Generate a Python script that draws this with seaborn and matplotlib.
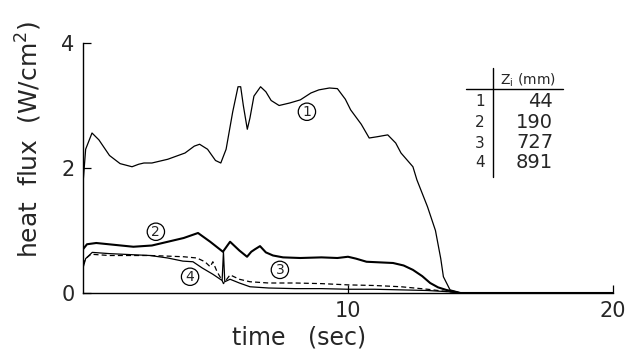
import numpy as np
import pandas as pd
import matplotlib
matplotlib.use("Agg")
import matplotlib.pyplot as plt
import seaborn as sns

# ---- data ----
t1 = [0, 0.1, 0.34, 0.6, 1.0, 1.4, 1.85, 2.1, 2.3, 2.6, 3.2, 3.85, 4.2, 4.4, 4.7, 5.0, 5.2, 5.4, 5.65, 5.85,
      5.95, 6.05, 6.2, 6.3, 6.45, 6.7, 6.9, 7.1, 7.4, 7.8, 8.2, 8.6, 8.9, 9.3, 9.6, 9.9, 10.1, 10.5, 10.8, 11.1,
      11.5, 11.8, 12.0, 12.45, 12.6, 13.0, 13.3, 13.5, 13.6, 13.85, 14.3, 20]
v1 = [1.75, 2.3, 2.56, 2.45, 2.2, 2.07, 2.02, 2.06, 2.08, 2.08, 2.14, 2.24, 2.35, 2.38, 2.3, 2.12, 2.08, 2.3,
      2.9, 3.3, 3.3, 3.0, 2.62, 2.8, 3.15, 3.3, 3.22, 3.08, 3.0, 3.04, 3.09, 3.2, 3.25, 3.28, 3.27, 3.1, 2.93,
      2.7, 2.48, 2.5, 2.53, 2.4, 2.24, 2.02, 1.81, 1.38, 1.0, 0.55, 0.26, 0.05, 0.0, 0.0]

t2 = [0, 0.15, 0.5, 1.2, 1.9, 2.6, 3.2, 3.8, 4.34, 4.8, 5.28, 5.55, 5.9, 6.19, 6.35, 6.49, 6.68, 6.9, 7.17,
      7.55, 8.2, 9.0, 9.6, 10.0, 10.3, 10.7, 11.2, 11.7, 12.1, 12.45, 12.8, 13.1, 13.4, 13.7, 14.2, 20]
v2 = [0.7, 0.78, 0.8, 0.77, 0.74, 0.76, 0.82, 0.88, 0.96, 0.82, 0.66, 0.82, 0.68, 0.58, 0.66, 0.7, 0.75,
      0.65, 0.6, 0.57, 0.56, 0.57, 0.56, 0.58, 0.55, 0.5, 0.49, 0.48, 0.44, 0.37, 0.27, 0.16, 0.09, 0.05, 0.0, 0.0]

t3 = [0, 0.1, 0.3, 1, 2, 2.53, 3.2, 3.8, 4.3, 4.6, 4.8, 4.9, 5.06, 5.25, 5.3, 5.55, 5.9, 6.3, 7, 8, 9, 10, 11,
      12, 13, 13.8, 14.3, 20]
v3 = [0.45, 0.55, 0.62, 0.6, 0.6, 0.6, 0.59, 0.58, 0.56, 0.5, 0.42, 0.5, 0.34, 0.2, 0.15, 0.29, 0.22, 0.18,
      0.16, 0.16, 0.15, 0.13, 0.12, 0.1, 0.06, 0.02, 0, 0]

t4 = [0, 0.1, 0.35, 1, 2, 2.53, 3.2, 3.77, 4.15, 4.5, 4.9, 5.25, 5.3, 5.35, 5.55, 5.9, 6.3, 7, 8, 9, 10, 11, 12,
      13, 13.8, 14.3, 20]
v4 = [0.4, 0.55, 0.65, 0.63, 0.61, 0.6, 0.56, 0.51, 0.5, 0.4, 0.3, 0.2, 0.66, 0.18, 0.22, 0.16, 0.1, 0.08, 0.07,
      0.07, 0.06, 0.06, 0.05, 0.04, 0.02, 0, 0]

series_ids = ["1", "2", "3", "4"]
z_mm = ["44", "190", "727", "891"]
x_ticks = [10, 20]
y_ticks = [0, 2, 4]

sns.set_theme(style="white")
plt.rcParams["font.family"] = ["DejaVu Sans"]
plt.rcParams["xtick.direction"] = "in"
plt.rcParams["ytick.direction"] = "in"

fig = plt.figure(figsize=(6.32, 3.56), dpi=100)
ax = fig.add_axes([83 / 632, 1 - 293 / 356, 530 / 632, 250 / 356])

styles = {
    "1": dict(color="black", lw=0.9, ls="-"),
    "2": dict(color="black", lw=1.5, ls="-"),
    "3": dict(color="black", lw=0.9, ls=(0, (4, 2.5))),
    "4": dict(color="black", lw=0.9, ls="-"),
}
for sid, t, v in zip(series_ids, [t1, t2, t3, t4], [v1, v2, v3, v4]):
    df = pd.DataFrame({"t": t, "v": v})
    sns.lineplot(data=df, x="t", y="v", ax=ax, sort=False, estimator=None,
                 color=styles[sid]["color"], linewidth=styles[sid]["lw"], linestyle=styles[sid]["ls"])

ax.set_xlim(0, 20)
ax.set_ylim(0, 4)
ax.set_xticks(x_ticks)
ax.set_yticks(y_ticks)
ax.set_xticklabels([str(x) for x in x_ticks], fontsize=15)
ax.set_yticklabels([str(y) for y in y_ticks], fontsize=15)
ax.tick_params(axis="both", direction="in", length=6, width=0.9, color="black", pad=6,
               left=True, bottom=True)
for s in ["top", "right"]:
    ax.spines[s].set_visible(False)
for s in ["left", "bottom"]:
    ax.spines[s].set_color("black")
    ax.spines[s].set_linewidth(1.0)
ax.set_xlabel("")
ax.set_ylabel("")

fig.text(299 / 632, 1 - 338 / 356, "time   (sec)", ha="center", va="center", fontsize=17)
fig.text(29 / 632, 1 - 139 / 356, "heat  flux  (W/cm$^2$)", ha="center", va="center", fontsize=18,
         rotation=90)

# circled curve labels
circ = dict(boxstyle="circle,pad=0.12", fc="white", ec="black", lw=0.9)
label_pos = {"1": (8.45, 2.9), "2": (2.75, 0.98), "3": (7.43, 0.37), "4": (4.04, 0.26)}
for sid in series_ids:
    x, y = label_pos[sid]
    ax.text(x, y, sid, ha="center", va="center", fontsize=10, bbox=circ)

# table
ax.plot([466 / 632, 563 / 632], [1 - 89 / 356, 1 - 89 / 356], transform=fig.transFigure, color="black", lw=1.0)
ax.plot([493 / 632, 493 / 632], [1 - 68 / 356, 1 - 177 / 356], transform=fig.transFigure, color="black", lw=1.0)
fig.text(500 / 632, 1 - 80 / 356, "Z$_\\mathregular{i}$ (mm)", ha="left", va="center", fontsize=10)
row_y = [101, 122, 143, 163]
for sid, z, yy in zip(series_ids, z_mm, row_y):
    fig.text(480 / 632, 1 - yy / 356, sid, ha="center", va="center", fontsize=11)
    fig.text(553 / 632, 1 - yy / 356, z, ha="right", va="center", fontsize=14)

fig.savefig("out.png", dpi=100, facecolor="white")
